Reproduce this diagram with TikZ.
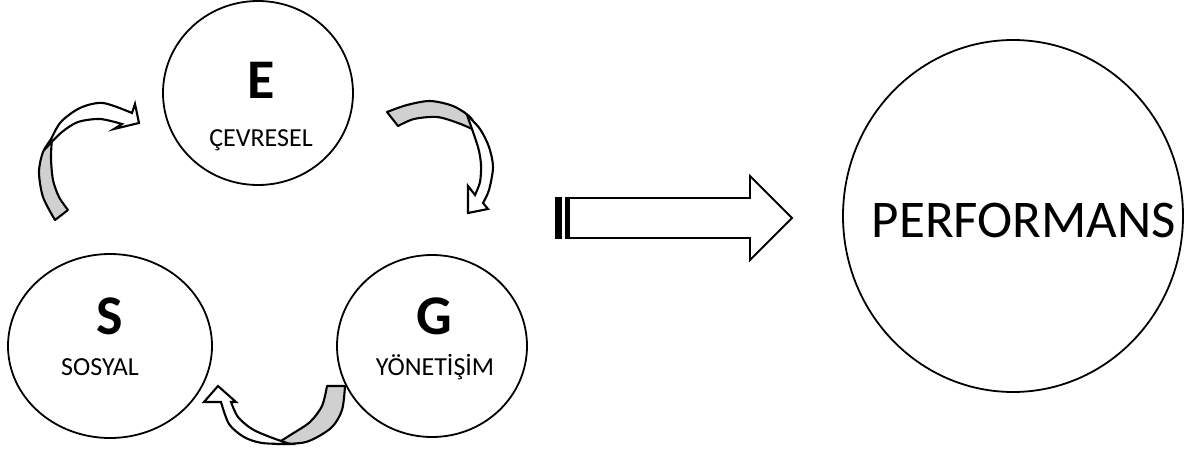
\documentclass[tikz,border=0pt]{standalone}
\usepackage{fontspec}
\setmainfont{Carlito}
\usetikzlibrary{shapes.geometric}
\definecolor{bandgray}{RGB}{208,208,208}
\tikzset{
  x=1pt, y=-1pt,
  ring/.style={ellipse, draw, line width=1.8pt, inner sep=0pt},
  bigletter/.style={font=\fontsize{56}{60}\selectfont\bfseries, inner sep=0pt},
  smalllabel/.style={font=\fontsize{26}{28}\selectfont, inner sep=0pt},
  backband/.style={fill=bandgray, draw, line width=2.1pt, line join=round},
  frontband/.style={fill=white, draw, line width=2.1pt, line join=miter},
}
\begin{document}
\begin{tikzpicture}
\useasboundingbox (0,0) rectangle (1201,452);

% the three pillars and the outcome
\node[ring, minimum width=190pt, minimum height=184pt] (E) at (258,93) {};
\node[ring, minimum width=204pt, minimum height=184pt] (S) at (110,346) {};
\node[ring, minimum width=190pt, minimum height=182pt] (G) at (432,346) {};
\node[ring, minimum width=340pt, minimum height=352pt] (P) at (1013,216) {};

\node[bigletter] (Et) at (261,80) {E};
\node[smalllabel, anchor=base] (El) at (261,146) {ÇEVRESEL};
\node[bigletter] (St) at (110,316) {S};
\node[smalllabel, anchor=base] (Sl) at (100,375) {SOSYAL};
\node[bigletter] (Gt) at (434,316) {G};
\node[smalllabel, anchor=base] (Gl) at (435,375) {YÖNETİŞİM};
\node[font=\fontsize{53}{58}\selectfont, inner sep=0pt, anchor=base] (Pt) at (1024,237) {PERFORMANS};

% curved arrow S -> E
\filldraw[backband] plot[smooth] coordinates {(55,220) (43,197) (39,172) (43,152) (52,138)}
  -- plot[smooth] coordinates {(52,138) (51,158) (53,180) (59,197) (68,210)} -- cycle;
\filldraw[frontband] plot[smooth] coordinates {(48,146) (60,123) (80,108) (103,103) (132,113)}
  -- (135,104) -- (139,123) -- (114,129) -- (122,124)
  -- plot[smooth] coordinates {(122,124) (100,119) (78,122) (62,132) (48,146)} -- cycle;

% curved arrow E -> G
\filldraw[backband] plot[smooth] coordinates {(387,112) (407,105) (430,101) (453,106) (470,117) (479,132)}
  -- plot[smooth] coordinates {(479,132) (458,123) (437,117) (414,119) (398,126)} -- cycle;
\filldraw[frontband] plot[smooth] coordinates {(467,115) (480,129) (489,147) (493,167) (489,190) (483,203)}
  -- (488,209) -- (468,213) -- (468,186) -- (475,195)
  -- plot[smooth] coordinates {(475,195) (480,182) (481,165) (478,147) (467,115)} -- cycle;

% curved arrow G -> S
\filldraw[backband] plot[smooth] coordinates {(345,386) (342,410) (331,428) (306,442) (276,444)}
  -- plot[smooth] coordinates {(276,444) (292,434) (310,422) (322,406) (327,386)} -- cycle;
\filldraw[frontband] plot[smooth] coordinates {(290,444) (262,443) (244,437) (229,424) (221,402)}
  -- (204,402) -- (218,386) -- (236,402) -- (231,402)
  -- plot[smooth] coordinates {(231,402) (238,417) (252,429) (270,437) (290,444)} -- cycle;

% striped block arrow towards performance
\filldraw[fill=white, line width=1.8pt, line join=miter]
  (569,198) -- (750,198) -- (750,176) -- (792,218) -- (750,260) -- (750,238) -- (569,238) -- cycle;
\fill (555,197) rectangle (562,239);
\fill (565,197) rectangle (569,239);
\end{tikzpicture}
\end{document}
